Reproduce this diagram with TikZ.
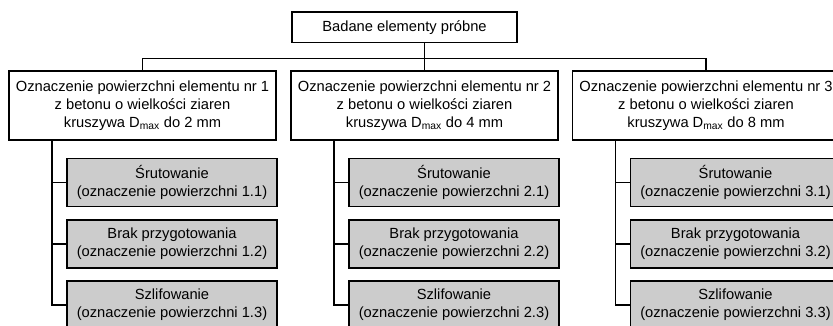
\documentclass[tikz,border=0pt]{standalone}
\usepackage{fontspec}
\setmainfont{Liberation Sans}
\usepackage{tikz}

\begin{document}
\begin{tikzpicture}[x=1pt,y=-1pt,line width=1.1pt,
  every node/.style={font=\fontsize{14.7}{18.3}\selectfont,align=center,inner sep=0pt},
  topbox/.style={draw,fill=white,minimum width=225pt,minimum height=30.5pt},
  elembox/.style={draw,fill=white,minimum width=267pt,minimum height=69pt},
  surfbox/.style={draw,fill=gray!40,minimum width=210pt,minimum height=48pt}]
  \clip (0,0) rectangle (833,326);

  \node[topbox] (top) at (404.5,27.3) {Badane elementy próbne};

  \node[elembox] (el1) at (142.5,105.5) {Oznaczenie powierzchni elementu nr 1\\z betonu o wielkości ziaren\\kruszywa D\textsubscript{max} do 2 mm};
  \node[elembox] (el2) at (424.5,105.5) {Oznaczenie powierzchni elementu nr 2\\z betonu o wielkości ziaren\\kruszywa D\textsubscript{max} do 4 mm};
  \node[elembox] (el3) at (706,105.5) {Oznaczenie powierzchni elementu nr 3\\z betonu o wielkości ziaren\\kruszywa D\textsubscript{max} do 8 mm};

  \node[surfbox] (s11) at (172,182.7) {Śrutowanie\\(oznaczenie powierzchni 1.1)};
  \node[surfbox] (s12) at (172,244) {Brak przygotowania\\(oznaczenie powierzchni 1.2)};
  \node[surfbox] (s13) at (172,305) {Szlifowanie\\(oznaczenie powierzchni 1.3)};

  \node[surfbox] (s21) at (454,182.7) {Śrutowanie\\(oznaczenie powierzchni 2.1)};
  \node[surfbox] (s22) at (454,244) {Brak przygotowania\\(oznaczenie powierzchni 2.2)};
  \node[surfbox] (s23) at (454,305) {Szlifowanie\\(oznaczenie powierzchni 2.3)};

  \node[surfbox] (s31) at (735.5,182.7) {Śrutowanie\\(oznaczenie powierzchni 3.1)};
  \node[surfbox] (s32) at (735.5,244) {Brak przygotowania\\(oznaczenie powierzchni 3.2)};
  \node[surfbox] (s33) at (735.5,305) {Szlifowanie\\(oznaczenie powierzchni 3.3)};

  \coordinate (bus) at (424.5,58.7);
  \draw (top.south -| el2.north) -- (el2.north);
  \draw (el1.north) |- (bus) -| (el3.north);

  \coordinate (v1) at (52,140);
  \coordinate (v2) at (334,140);
  \coordinate (v3) at (615.5,140);

  \draw (v1) |- (s13.west);
  \draw (v1 |- s11.west) -- (s11.west);
  \draw (v1 |- s12.west) -- (s12.west);

  \draw (v2) |- (s23.west);
  \draw (v2 |- s21.west) -- (s21.west);
  \draw (v2 |- s22.west) -- (s22.west);

  \draw (v3) |- (s33.west);
  \draw (v3 |- s31.west) -- (s31.west);
  \draw (v3 |- s32.west) -- (s32.west);
\end{tikzpicture}
\end{document}
